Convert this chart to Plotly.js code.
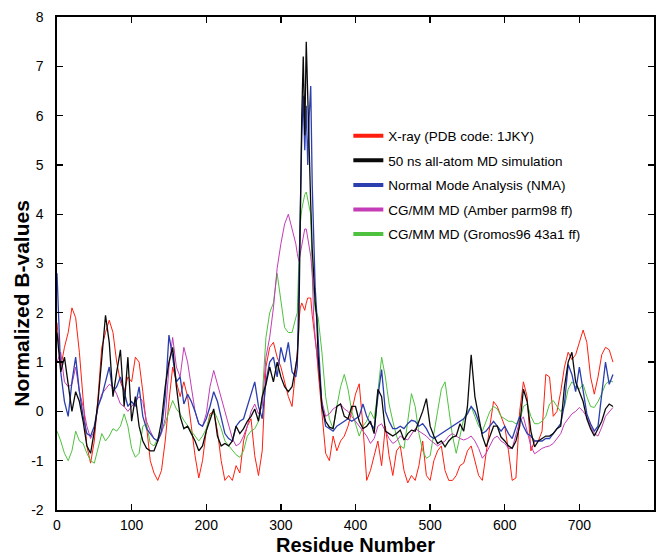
<!DOCTYPE html>
<html>
<head>
<meta charset="utf-8">
<script src="https://cdn.plot.ly/plotly-3.0.1.min.js"></script>
<style>html,body{margin:0;padding:0;background:#fff;}#chart{width:663px;height:559px;}</style>
</head>
<body>
<div id="chart"></div>
<script>
// Residue numbers (x positions of the sampled profile points)
const residues = [0,5,10,15,20,25,30,35,40,45,50,55,60,65,70,75,80,85,90,95,100,105,110,115,120,125,130,135,140,145,150,155,160,165,170,175,180,185,190,195,200,205,210,215,220,225,230,235,240,245,250,255,260,265,270,275,280,285,290,295,300,305,310,315,320,
322,324,326,328,330,332,334,336,338,340,342,344,346,348,
350,355,360,365,370,375,380,385,390,395,400,405,410,415,420,425,430,435,440,445,450,455,460,465,470,475,480,485,490,495,500,505,510,515,520,525,530,535,540,545,550,555,560,565,570,575,580,585,590,595,600,605,610,615,620,625,630,635,640,645,650,655,660,665,670,675,680,685,690,695,700,705,710,715,720,725,730,735,740,745];

// X-ray (PDB code: 1JKY)
const xray = [1.8,0.9,1.3,1.6,2.1,1.9,1.2,0.3,-0.7,-1.05,
-0.6,0.3,1.3,1.6,1.85,1.6,1.0,0.6,0.4,0.7,
0.6,1.1,1.0,0.4,-0.3,-1.0,-1.25,-1.4,-1.2,-0.6,
0.2,0.9,0.6,0.3,0.6,0.3,-0.3,-0.9,-1.35,-1.0,
-0.4,-0.05,0.0,-0.4,-1.0,-1.4,-1.3,-1.4,-1.1,-1.25,
-0.6,-0.3,-0.15,-0.9,-1.3,-0.8,0.9,1.3,1.4,1.1,
0.9,0.6,0.3,0.1,1.0,
1.2,1.8,2.1,2.2,2.1,2.05,2.2,2.3,2.3,2.3,1.95,1.7,1.5,1.2,
0.8,-0.1,-0.85,-1.0,-0.5,-0.8,-0.6,-0.5,-0.3,0.0,
0.35,0.56,-0.3,-1.4,-1.2,-0.9,-0.6,-1.1,-0.3,-0.9,
-1.3,-0.8,-0.7,-1.2,-1.45,-1.3,-1.4,-1.1,-0.6,-1.3,
-1.4,-1.0,-0.8,-0.7,-1.2,-1.4,-1.4,-1.3,-1.1,-1.05,
-0.8,-0.7,-1.0,-1.3,-1.4,-0.8,-0.3,0.2,0.1,-0.1,
-0.3,-0.8,-1.4,-1.35,0.0,0.6,0.3,-0.8,-0.6,-0.6,
-0.4,0.75,0.7,-0.1,0.0,0.4,0.9,1.2,1.05,1.15,
1.4,1.65,1.4,0.7,0.35,0.7,1.15,1.3,1.25,1.0];

// 50 ns all-atom MD simulation
const mdAllAtom = [1.6,0.8,1.1,0.6,0.0,0.4,0.2,-0.2,-0.7,-0.85,
-0.4,0.2,1.0,1.95,1.4,0.3,0.8,1.25,0.1,1.1,
-0.2,0.3,-0.3,-0.6,-0.75,-0.8,-0.8,-0.6,-0.2,0.5,
1.0,1.3,0.5,-0.1,-0.35,-0.3,-0.45,-0.6,-0.8,-0.7,
-0.4,-0.15,0.05,-0.5,-0.7,-0.65,-0.7,-0.6,-0.3,-0.45,
-0.35,-0.2,-0.1,0.05,-0.2,0.3,0.55,0.9,0.6,1.0,
0.7,0.5,0.4,0.5,1.0,
1.1,1.7,4.0,6.0,7.2,5.6,7.5,6.3,5.0,4.2,3.3,2.7,2.2,1.9,
1.1,0.1,-0.2,-0.32,-0.35,0.1,0.15,-0.1,-0.15,0.1,
0.1,-0.2,-0.35,-0.3,-0.2,-0.45,0.45,0.3,-0.4,-0.45,
-0.5,-0.45,-0.38,-0.58,-0.45,-0.38,-0.4,-0.2,0.0,0.26,
-0.3,-0.5,-0.65,-0.6,-0.72,-0.6,-0.52,-0.5,-0.25,-0.4,
0.1,1.15,0.3,-0.1,-0.5,-0.72,-0.5,-0.3,-0.3,-0.52,
-0.6,-0.7,-0.75,-0.6,-0.3,0.45,0.2,-0.4,-0.72,-0.6,
-0.55,-0.5,-0.5,-0.45,-0.35,-0.3,0.5,1.0,1.2,0.6,
0.4,0.2,-0.15,-0.35,-0.5,-0.35,-0.2,0.05,0.15,0.1];

// Normal Mode Analysis (NMA)
const nma = [2.8,0.8,0.2,-0.1,0.6,1.1,0.4,-0.1,-0.45,-0.5,
-0.3,0.1,0.3,0.6,0.9,0.4,0.5,0.7,0.4,0.1,
0.2,0.1,0.5,-0.1,-0.35,-0.45,-0.55,-0.6,-0.4,0.3,
1.55,1.1,0.6,0.7,0.15,0.35,0.2,0.0,-0.25,-0.3,
-0.15,0.1,0.4,0.2,-0.15,-0.45,-0.55,-0.6,-0.3,-0.2,
-0.15,0.1,0.3,0.6,0.1,-0.15,0.6,1.0,1.1,0.7,
1.3,1.0,1.4,0.8,0.7,
0.9,2.5,4.5,5.6,6.4,5.3,6.2,5.0,6.0,6.6,4.6,3.4,2.5,2.0,
1.5,0.1,-0.3,-0.35,-0.4,-0.3,-0.25,-0.2,-0.15,-0.2,
-0.15,-0.1,0.15,-0.1,-0.25,-0.35,0.3,0.85,0.0,-0.2,
-0.35,-0.35,-0.3,-0.35,-0.25,-0.18,-0.2,-0.3,-0.25,-0.35,
-0.5,-0.55,-0.5,-0.45,-0.4,-0.35,-0.3,-0.25,-0.2,-0.15,
-0.05,0.1,0.0,-0.2,-0.45,-0.4,-0.3,-0.2,-0.3,-0.4,
-0.3,-0.45,-0.55,-0.3,-0.1,-0.3,-0.45,-0.5,-0.6,-0.6,
-0.6,-0.55,-0.55,-0.45,-0.35,-0.25,0.15,0.95,0.75,0.4,
0.9,0.4,-0.05,-0.25,-0.4,-0.3,0.35,1.0,0.55,0.75];

// CG/MM MD (Amber parm98 ff)
const cgAmber = [1.0,1.2,0.6,0.5,0.55,0.9,0.4,0.1,-0.3,-0.55,
-0.4,0.1,0.35,0.45,0.55,0.5,0.35,0.15,0.1,0.0,
0.1,0.2,0.3,0.2,-0.2,-0.4,-0.55,-0.6,-0.45,-0.15,
0.9,1.5,0.9,0.7,1.3,1.0,0.5,0.0,-0.25,-0.3,
-0.05,0.5,0.83,0.55,0.3,0.0,-0.3,-0.55,-0.7,-0.65,
-0.5,-0.3,0.0,0.15,-0.05,0.1,1.1,1.5,2.1,2.9,
3.4,3.8,4.0,3.7,3.4,
3.2,3.05,3.2,3.35,3.5,3.7,3.7,3.5,3.3,3.15,2.8,1.9,1.5,1.2,
1.0,0.2,-0.1,-0.05,0.05,0.1,0.15,0.05,0.0,-0.1,
-0.2,-0.3,-0.4,-0.5,-0.65,-0.55,-0.3,-0.25,-0.4,-0.55,
-0.65,-0.6,-0.5,-0.55,-0.58,-0.45,-0.35,-0.4,-0.45,-0.5,
-0.58,-0.65,-0.7,-0.65,-0.6,-0.5,-0.45,-0.5,-0.55,-0.58,
-0.55,-0.5,-0.6,-0.75,-0.95,-0.85,-0.7,-0.55,-0.5,-0.6,
-0.65,-0.75,-0.75,-0.5,-0.2,-0.11,-0.4,-0.7,-0.86,-0.8,
-0.75,-0.72,-0.7,-0.65,-0.55,-0.45,-0.25,-0.15,-0.05,0.0,
0.08,0.0,-0.11,-0.3,-0.45,-0.5,-0.32,-0.1,0.0,0.08];

// CG/MM MD (Gromos96 43a1 ff)
const cgGromos = [-0.4,-0.6,-0.85,-1.0,-0.8,-0.4,-0.6,-0.65,-0.85,-1.0,
-1.05,-0.75,-0.45,-0.6,-0.5,-0.35,-0.4,-0.3,-0.05,-0.3,
-0.75,-0.93,-0.85,-0.3,-0.25,-0.65,-0.7,-0.55,-0.4,-0.25,
0.0,0.22,0.05,-0.05,-0.18,-0.3,-0.4,-0.5,-0.6,-0.5,
-0.35,-0.1,0.02,-0.15,-0.35,-0.6,-0.7,-0.8,-0.88,-0.93,
-0.8,-0.5,-0.4,-0.35,-0.2,0.3,1.5,2.0,2.2,2.8,
2.3,1.7,1.6,1.6,1.9,
2.0,3.0,3.8,4.1,4.3,4.4,4.45,4.3,4.2,4.0,2.8,2.3,2.05,2.0,
1.9,1.2,0.3,-0.15,-0.35,0.1,0.5,0.75,0.45,0.0,
-0.25,-0.5,-0.3,-0.2,0.0,-0.15,0.4,1.1,0.7,0.15,
-0.2,-0.5,-0.7,-0.75,-0.2,0.36,0.1,-0.45,-0.8,-0.95,
-0.9,-0.4,0.0,0.45,0.6,0.05,-0.5,-0.85,-0.5,-0.15,
0.0,0.1,-0.1,-0.3,-0.4,-0.2,0.0,0.1,0.05,-0.1,
-0.15,-0.2,-0.2,-0.25,-0.2,0.1,0.15,-0.1,-0.25,-0.25,
-0.2,-0.1,0.15,0.22,0.1,0.0,0.1,0.45,0.6,0.5,
0.45,0.55,0.3,0.1,0.08,0.2,0.36,0.55,0.62,0.6];

const seriesNames = ['X-ray (PDB code: 1JKY)','50 ns all-atom MD simulation','Normal Mode Analysis (NMA)','CG/MM MD (Amber parm98 ff)','CG/MM MD (Gromos96 43a1 ff)'];
const seriesData = [xray, mdAllAtom, nma, cgAmber, cgGromos];
const seriesColors = ['#ff1e0e','#0a0a0a','#2b3fae','#c43cb6','#4ec23e'];
const xTicks = [0,100,200,300,400,500,600,700,800];
const yTicks = [-2,-1,0,1,2,3,4,5,6,7,8];

// drawing order: red, green, magenta, blue, black on top
const drawOrder = [0,4,3,2,1];
const traces = [];
drawOrder.forEach(i => {
  traces.push({
    type:'scatter', mode:'lines', x: residues, y: seriesData[i],
    line:{color: seriesColors[i], width: (i===1||i===2)?1.3:1.0},
    showlegend:false, hoverinfo:'skip'
  });
});
// legend entries (thicker swatches, no data drawn)
seriesNames.forEach((n,i) => {
  traces.push({
    type:'scatter', mode:'lines', x:[null], y:[null], name:n,
    line:{color: seriesColors[i], width:4},
    legendgroup:'g'+i, showlegend:true
  });
});

const tickFont = {family:'"Liberation Sans Narrow","Arial Narrow","Liberation Sans",Arial,sans-serif', size:14, color:'#000'};
const layout = {
  width:663, height:559,
  margin:{l:57, r:9, t:17, b:49},
  paper_bgcolor:'#fff', plot_bgcolor:'#fff',
  font:{family:'"Liberation Sans",Arial,sans-serif', color:'#000'},
  xaxis:{range:[0,800], tickvals:xTicks, ticktext:xTicks.map(String), ticks:'inside', ticklen:6, tickwidth:1.3, tickcolor:'#000',
    showline:true, linecolor:'#000', linewidth:1.6, mirror:'ticks', showgrid:false, zeroline:false,
    tickfont:tickFont, ticklabelstandoff:2},
  yaxis:{range:[-2,8], tickvals:yTicks, ticktext:yTicks.map(String), ticks:'inside', ticklen:6, tickwidth:1.3, tickcolor:'#000',
    showline:true, linecolor:'#000', linewidth:1.6, mirror:'ticks', showgrid:false, zeroline:false,
    tickfont:tickFont, ticklabelstandoff:9},
  showlegend:true,
  legend:{x:0.488, y:0.79, xanchor:'left', yanchor:'top', bgcolor:'rgba(0,0,0,0)', borderwidth:0,
    font:{family:'"Liberation Sans",Arial,sans-serif', size:13.5, color:'#000'}, tracegroupgap:4, itemwidth:30},
  annotations:[
    {text:'<b>Residue Number</b>', xref:'paper', yref:'paper', x:0.5, y:-0.071, xanchor:'center', yanchor:'middle', showarrow:false,
      font:{family:'"Liberation Sans",Arial,sans-serif', size:20, color:'#000'}},
    {text:'<b>Normalized B-values</b>', xref:'paper', yref:'paper', x:-0.059, y:0.42, xanchor:'center', yanchor:'middle', textangle:-90, showarrow:false,
      font:{family:'"Liberation Sans",Arial,sans-serif', size:21, color:'#000'}}
  ]
};

Plotly.newPlot('chart', traces, layout, {staticPlot:true, displayModeBar:false});
</script>
</body>
</html>
